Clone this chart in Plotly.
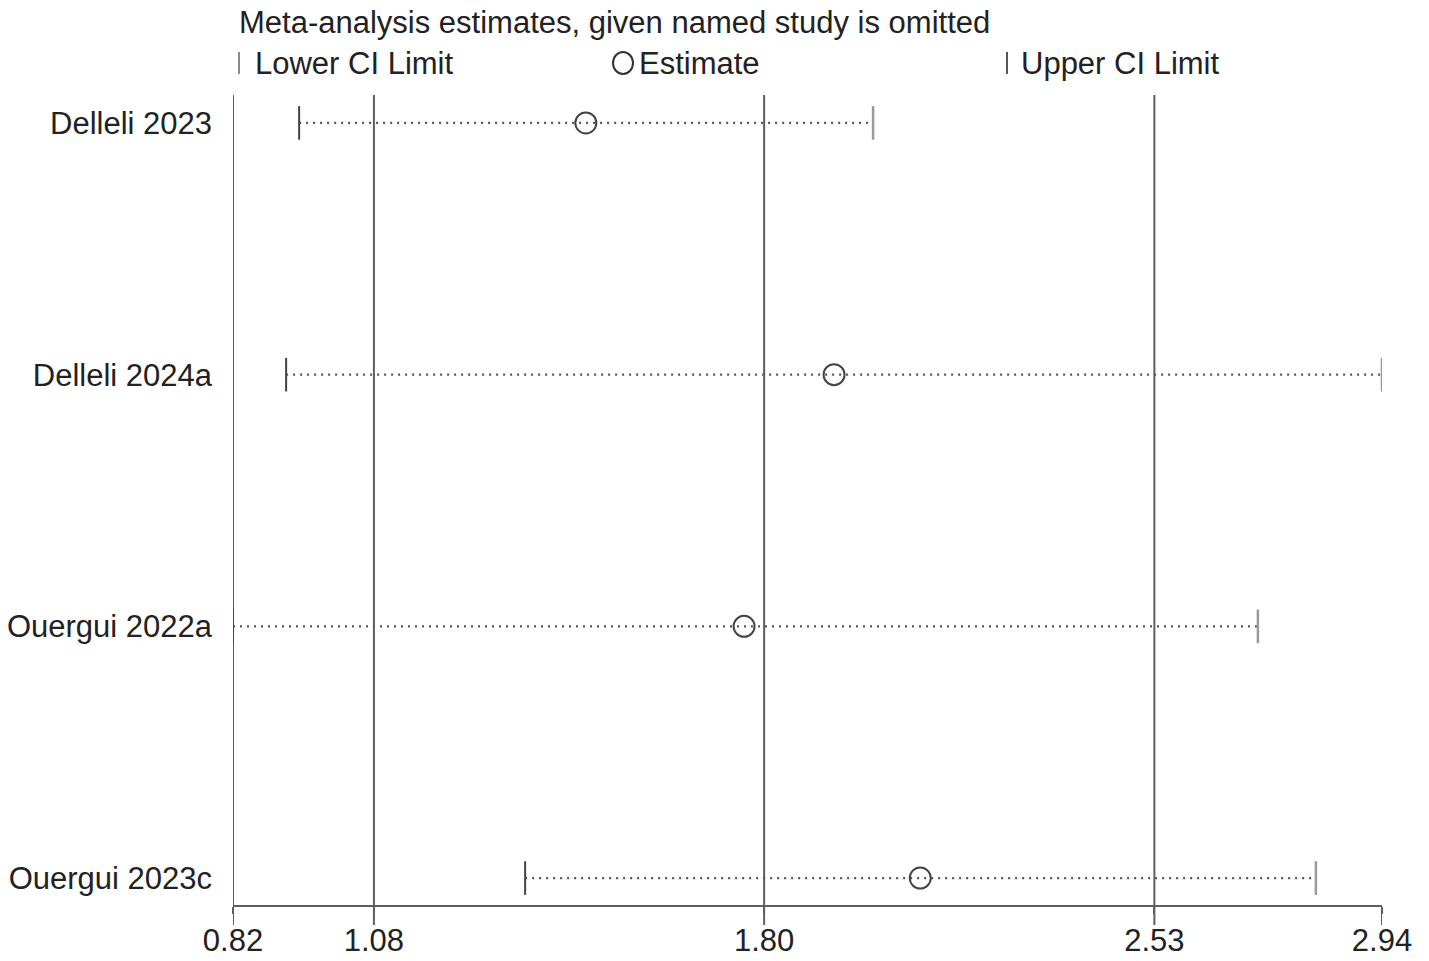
import plotly.graph_objects as go

# Data
studies = ["Delleli 2023", "Delleli 2024a", "Ouergui 2022a", "Ouergui 2023c"]
lower_ci = [0.942, 0.918, 0.82, 1.359]
estimate = [1.471, 1.929, 1.763, 2.088]
upper_ci = [2.001, 2.94, 2.711, 2.818]
ref_lines = [1.08, 1.80, 2.52]          # overall lower CI, estimate, upper CI
tick_vals = [0.82, 1.08, 1.80, 2.52, 2.94]
tick_text = ["0.82", "1.08", "1.80", "2.53", "2.94"]

FONT = "Liberation Sans, Arial, Helvetica, sans-serif"
FS = 31
TXT = "#222222"
LINE = "#5e5e5e"

ypos = list(range(len(studies), 0, -1))  # top to bottom

fig = go.Figure()

# dotted CI lines
xs, ys = [], []
for lo, hi, y in zip(lower_ci, upper_ci, ypos):
    xs += [lo, hi, None]
    ys += [y, y, None]
fig.add_trace(go.Scatter(x=xs, y=ys, mode="lines",
                         line=dict(color="#555555", width=2.2, dash="2px,5px"),
                         showlegend=False, hoverinfo="skip"))
# lower caps
fig.add_trace(go.Scatter(x=lower_ci, y=ypos, mode="markers", name="Lower CI Limit",
                         marker=dict(symbol="line-ns", size=24,
                                     line=dict(color="#444444", width=2)),
                         showlegend=False))
# upper caps
fig.add_trace(go.Scatter(x=upper_ci, y=ypos, mode="markers", name="Upper CI Limit",
                         marker=dict(symbol="line-ns", size=24,
                                     line=dict(color="#9a9a9a", width=2.5)),
                         showlegend=False))
# estimates
fig.add_trace(go.Scatter(x=estimate, y=ypos, mode="markers", name="Estimate",
                         marker=dict(symbol="circle", size=21, color="rgba(255,255,255,0)",
                                     line=dict(color="#444444", width=2)),
                         showlegend=False))

# vertical reference lines (continuing below the axis as long ticks)
tick_drop = -20 / 810
for v in ref_lines + [0.82]:
    fig.add_shape(type="line", xref="x", yref="paper", x0=v, x1=v, y0=tick_drop, y1=1,
                  line=dict(color=LINE, width=2), layer="below")
fig.add_shape(type="line", xref="x", yref="paper", x0=2.94, x1=2.94, y0=tick_drop, y1=0,
              line=dict(color=LINE, width=2), layer="below")

# Title and legend
fig.add_annotation(text="Meta-analysis estimates, given named study is omitted",
                   xref="paper", yref="paper", x=(237 - 233) / 1149, y=(905 - 22) / 810,
                   xanchor="left", yanchor="middle", showarrow=False,
                   font=dict(family=FONT, size=FS, color=TXT))
leg_y = (905 - 63) / 810
legend_items = [("Lower CI Limit", 253), ("Estimate", 637), ("Upper CI Limit", 1019)]
for label, px in legend_items:
    fig.add_annotation(text=label, xref="paper", yref="paper", x=(px - 233) / 1149, y=leg_y,
                       xanchor="left", yanchor="middle", showarrow=False,
                       font=dict(family=FONT, size=FS, color=TXT))
# legend symbols
for px, col in [(239, "#8a8a8a"), (1007, "#555555")]:
    fig.add_shape(type="line", xref="paper", yref="paper",
                  x0=(px - 233) / 1149, x1=(px - 233) / 1149,
                  y0=(905 - 74) / 810, y1=(905 - 52) / 810,
                  line=dict(color=col, width=2))
fig.add_shape(type="circle", xref="paper", yref="paper", xsizemode="pixel", ysizemode="pixel",
              xanchor=(623 - 233) / 1149, yanchor=leg_y, x0=-10, x1=10, y0=-11, y1=11,
              line=dict(color="#333333", width=2))

fig.update_xaxes(range=[0.82, 2.94], tickvals=tick_vals, ticktext=tick_text,
                 showgrid=False, zeroline=False, showline=True, linecolor=LINE, linewidth=2,
                 ticks="outside", ticklen=7, tickwidth=2, tickcolor=LINE, automargin=False,
                 tickfont=dict(family=FONT, size=FS, color=TXT))
fig.update_yaxes(range=[0.893, 4.111], tickvals=ypos, ticktext=studies,
                 showgrid=False, zeroline=False, showline=False, ticks="",
                 ticklabelstandoff=20, automargin=False,
                 tickfont=dict(family=FONT, size=FS, color=TXT))

fig.update_layout(width=1429, height=961, margin=dict(l=233, r=47, t=95, b=56),
                  plot_bgcolor="white", paper_bgcolor="white", showlegend=False)

fig.write_html("out.html", config={"displayModeBar": False},
               post_script="document.body.style.margin='0';")
